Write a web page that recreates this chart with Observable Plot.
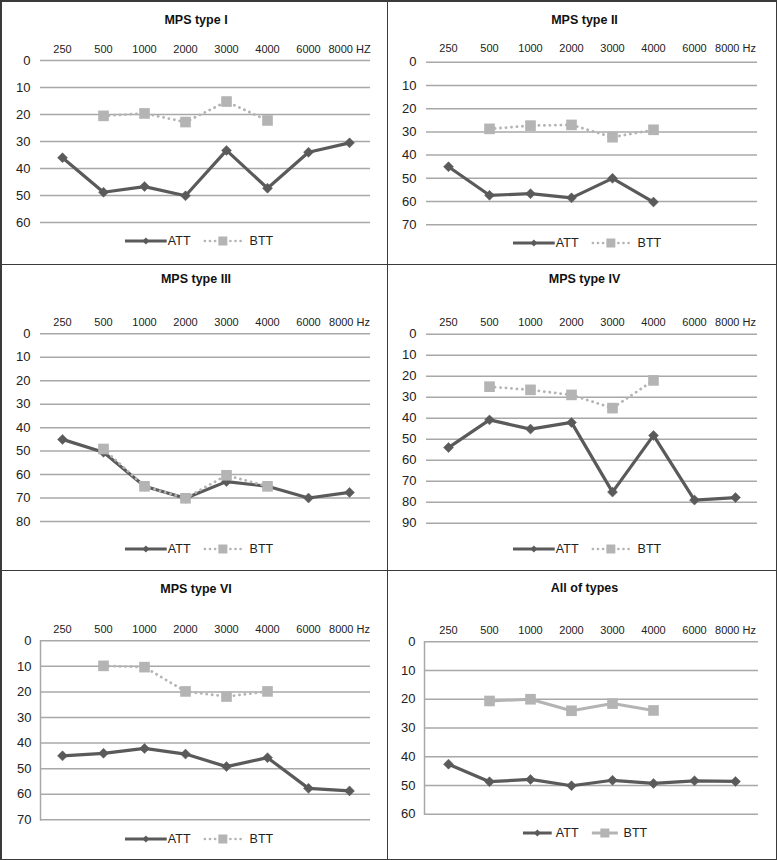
<!DOCTYPE html>
<html>
<head>
<meta charset="utf-8">
<script src="https://cdn.jsdelivr.net/npm/d3@7"></script>
<script src="https://cdn.jsdelivr.net/npm/@observablehq/plot@0.6"></script>
<style>
  html, body { margin: 0; padding: 0; background: #fff; }
  #root { position: relative; width: 777px; height: 860px; overflow: hidden; font-family: "Liberation Sans", Arial, sans-serif; }
  .panel { position: absolute; }
  .title { position: absolute; left: 0; width: 100%; text-align: center; font-weight: bold; font-size: 12.5px; line-height: 14px; color: #111; }
  .plotbox { position: absolute; left: 0; top: 0; }
  .legend { position: absolute; display: flex; align-items: center; font-size: 12.5px; color: #222; transform: translateX(-50%); white-space: nowrap; line-height: 14px; }
  .legend svg { display: block; }
  .rule { position: absolute; background: #3a3a3a; }
</style>
</head>
<body>
<div id="root"></div>
<script>
// ---------- data ----------
const freqs = ["250", "500", "1000", "2000", "3000", "4000", "6000", "8000"];
const panelTitles = ["MPS type I", "MPS type II", "MPS type III", "MPS type IV", "MPS type VI", "All of types"];
const unitLabels = ["HZ", "Hz", "Hz", "Hz", "Hz", "Hz"];
const seriesNames = ["ATT", "BTT"];

const attTypeI   = [36, 48.8, 46.7, 50.1, 33.3, 47.3, 34, 30.5];
const bttTypeI   = [null, 20.5, 19.6, 22.8, 15.2, 22.2, null, null];
const attTypeII  = [45, 57.3, 56.6, 58.4, 50, 60.2, null, null];
const bttTypeII  = [null, 28.7, 27.3, 27, 32.3, 29.1, null, null];
const attTypeIII = [45, 50.5, 65, 70.1, 63, 65, 70, 67.6];
const bttTypeIII = [null, 49.1, 65, 70.1, 60.3, 65, null, null];
const attTypeIV  = [54, 40.8, 45.2, 42, 75.2, 48.2, 79, 77.8];
const bttTypeIV  = [null, 25, 26.5, 28.9, 35.2, 22, null, null];
const attTypeVI  = [45, 44, 42.1, 44.3, 49.2, 45.7, 57.7, 58.7];
const bttTypeVI  = [null, 9.8, 10.3, 19.8, 21.8, 19.8, null, null];
const attAll     = [42.6, 48.7, 47.9, 50.1, 48.2, 49.3, 48.4, 48.6];
const bttAll     = [null, 20.6, 20, 24, 21.5, 23.9, null, null];

const yTicksI   = [0, 10, 20, 30, 40, 50, 60];
const yTicksII  = [0, 10, 20, 30, 40, 50, 60, 70];
const yTicksIII = [0, 10, 20, 30, 40, 50, 60, 70, 80];
const yTicksIV  = [0, 10, 20, 30, 40, 50, 60, 70, 80, 90];
const yTicksVI  = [0, 10, 20, 30, 40, 50, 60, 70];
const yTicksAll = [0, 10, 20, 30, 40, 50, 60];

const attSeries = [attTypeI, attTypeII, attTypeIII, attTypeIV, attTypeVI, attAll];
const bttSeries = [bttTypeI, bttTypeII, bttTypeIII, bttTypeIV, bttTypeVI, bttAll];
const yTickSets = [yTicksI, yTicksII, yTicksIII, yTicksIV, yTicksVI, yTicksAll];

// ---------- layout (pixels) ----------
const layout = [
  {ox: 0,   oy: 0,   w: 388, h: 264, left: 40, right: 370, y0: 60,   y1: 222,   labelY: 47,   titleY: 20, legendY: 241, legendX: 199, axisLine: false, solid: false, compact: false},
  {ox: 388, oy: 0,   w: 389, h: 264, left: 38, right: 369, y0: 61.7, y1: 224.3, labelY: 47,   titleY: 20, legendY: 243, legendX: 199, axisLine: false, solid: false, compact: false},
  {ox: 0,   oy: 264, w: 388, h: 306, left: 40, right: 370, y0: 69.3, y1: 257,   labelY: 56,   titleY: 15, legendY: 285, legendX: 199, axisLine: false, solid: false, compact: false},
  {ox: 388, oy: 264, w: 389, h: 306, left: 38, right: 369, y0: 69.7, y1: 258.7, labelY: 57,   titleY: 15, legendY: 285, legendX: 199, axisLine: false, solid: false, compact: false},
  {ox: 0,   oy: 570, w: 388, h: 290, left: 40, right: 370, y0: 70.3, y1: 249.3, labelY: 57.7, titleY: 19, legendY: 268.7, legendX: 199, axisLine: true, solid: false, compact: false},
  {ox: 388, oy: 570, w: 389, h: 290, left: 36, right: 370, y0: 71.3, y1: 243.7, labelY: 58.7, titleY: 18, legendY: 262.7, legendX: 197, axisLine: true, solid: true, compact: true}
];

const ATT_COLOR = "#5a5a5a";
const BTT_COLOR = "#b4b4b4";
const GRID_COLOR = "#a8a8a8";

const root = document.getElementById("root");

function legendHTML(cfg) {
  const lw1 = cfg.compact ? 29 : 42;
  const lw2 = cfg.compact ? 30 : 40;
  const dash = cfg.solid ? "" : `stroke-dasharray="0.1,5" stroke-linecap="round"`;
  const bw = cfg.solid ? 3 : 2.6;
  const gapText1 = cfg.compact ? 4 : 1;
  const gapMid = cfg.compact ? 11 : 12;
  const gapText2 = cfg.compact ? 4 : 7;
  return `
    <svg width="${lw1}" height="12"><line x1="0" x2="${lw1}" y1="6" y2="6" stroke="${ATT_COLOR}" stroke-width="3.2"/>
      <path d="M${lw1/2},2.5 L${lw1/2+3.5},6 L${lw1/2},9.5 L${lw1/2-3.5},6 Z" fill="${ATT_COLOR}"/></svg>
    <span style="margin-left:${gapText1}px">${seriesNames[0]}</span>
    <svg style="margin-left:${gapMid}px" width="${lw2}" height="12"><line x1="2" x2="${lw2-2}" y1="6" y2="6" stroke="${BTT_COLOR}" stroke-width="${bw}" ${dash}/>
      <rect x="${lw2/2-4.5}" y="1.5" width="9" height="9" fill="${BTT_COLOR}"/></svg>
    <span style="margin-left:${gapText2}px">${seriesNames[1]}</span>`;
}

layout.forEach((cfg, i) => {
  const panel = document.createElement("div");
  panel.className = "panel";
  panel.style.left = cfg.ox + "px";
  panel.style.top = cfg.oy + "px";
  panel.style.width = cfg.w + "px";
  panel.style.height = cfg.h + "px";

  const title = document.createElement("div");
  title.className = "title";
  title.style.top = (cfg.titleY - 7) + "px";
  title.style.paddingLeft = "4px";
  title.style.boxSizing = "border-box";
  title.textContent = panelTitles[i];

  const data = freqs.map((f, k) => ({f, att: attSeries[i][k], btt: bttSeries[i][k]}));
  const attData = data.filter(d => d.att != null);
  const bttData = data.filter(d => d.btt != null);
  const yTicks = yTickSets[i];
  const yMaxVal = yTicks[yTicks.length - 1];
  const unit = unitLabels[i];

  const chart = Plot.plot({
    width: cfg.w,
    height: cfg.y1 + 6,
    marginTop: cfg.y0,
    marginBottom: 6,
    marginLeft: cfg.left,
    marginRight: cfg.w - cfg.right,
    style: {fontFamily: "'Liberation Sans', Arial, sans-serif", background: "transparent", color: "#222", overflow: "visible"},
    x: {type: "point", domain: freqs, padding: 0.5},
    y: {domain: [0, yMaxVal], reverse: true},
    marks: [
      Plot.gridY(yTicks, {stroke: GRID_COLOR, strokeOpacity: 1, strokeWidth: 1.5}),
      cfg.axisLine ? Plot.frame({anchor: "left", stroke: GRID_COLOR, strokeWidth: 1.5}) : null,
      Plot.axisX({anchor: "top", tickSize: 0, tickPadding: cfg.y0 - cfg.labelY - 5, fontSize: 11, label: null,
        tickFormat: f => f === freqs[freqs.length - 1] ? `${f} ${unit}` : f}),
      Plot.axisY(yTicks, {anchor: "left", tickSize: 0, tickPadding: cfg.axisLine ? 9 : 10, fontSize: 13, label: null}),
      Plot.line(attData, {x: "f", y: "att", stroke: ATT_COLOR, strokeWidth: 3.2, strokeLinejoin: "round"}),
      Plot.dot(attData, {x: "f", y: "att", symbol: "diamond2", r: 4.5, fill: ATT_COLOR, stroke: ATT_COLOR, strokeWidth: 0.5}),
      Plot.line(bttData, cfg.solid
        ? {x: "f", y: "btt", stroke: BTT_COLOR, strokeWidth: 3, strokeLinejoin: "round"}
        : {x: "f", y: "btt", stroke: BTT_COLOR, strokeWidth: 2.8, strokeDasharray: "0.1,5.4", strokeLinecap: "round"}),
      Plot.dot(bttData, {x: "f", y: "btt", symbol: "square", r: 6, fill: BTT_COLOR, stroke: "none"})
    ]
  });
  chart.classList.add("plotbox");

  const legend = document.createElement("div");
  legend.className = "legend";
  legend.style.left = cfg.legendX + "px";
  legend.style.top = (cfg.legendY - 7) + "px";
  legend.innerHTML = legendHTML(cfg);

  panel.appendChild(chart);
  panel.appendChild(title);
  panel.appendChild(legend);
  root.appendChild(panel);
});

// panel borders
const rules = [
  {l: 0, t: 0, w: 777, h: 1.5},
  {l: 0, t: 858.5, w: 777, h: 1.5},
  {l: 0, t: 0, w: 1.5, h: 860},
  {l: 775.5, t: 0, w: 1.5, h: 860},
  {l: 0, t: 263.5, w: 777, h: 1.5},
  {l: 0, t: 569.5, w: 777, h: 1.5},
  {l: 386.5, t: 0, w: 1.5, h: 860}
];
rules.forEach(r => {
  const d = document.createElement("div");
  d.className = "rule";
  Object.assign(d.style, {left: r.l + "px", top: r.t + "px", width: r.w + "px", height: r.h + "px"});
  root.appendChild(d);
});
</script>
</body>
</html>
